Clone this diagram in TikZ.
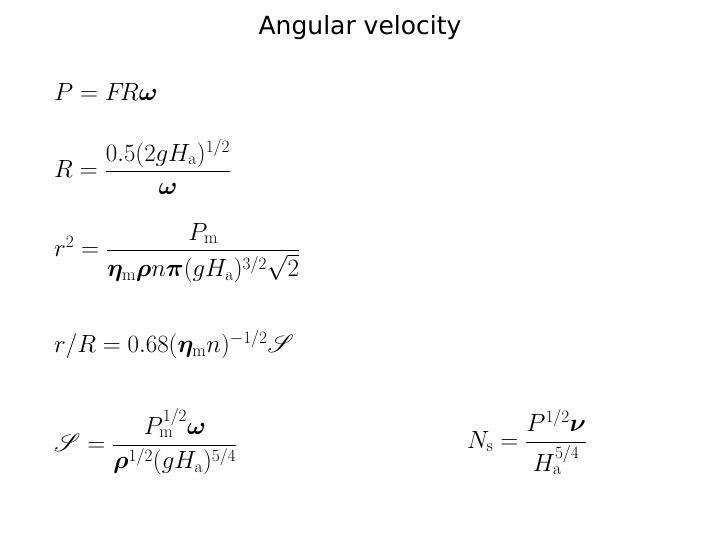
\documentclass[tikz,border=0pt]{standalone}
\usepackage{amsmath,bm,mathrsfs}
\usepackage{fontspec}
\newfontfamily\titlefont{DejaVu Sans}
\begin{document}
\begin{tikzpicture}[x=1pt,y=-1pt,
  eq/.style={anchor=west,inner sep=0pt,font=\fontsize{25}{30}\selectfont}]
\useasboundingbox (0,0) rectangle (720,540);
\node[font=\titlefont\fontsize{25}{30}\selectfont] (title) at (360,28) {Angular velocity};
\node[eq] (e1) at (54,92) {$P = F\!R\bm{\omega}$};
\node[eq] (e2) at (54,167) {$R = \dfrac{0.5(2gH_{\mathrm{a}})^{1/2}}{\bm{\omega}}$};
\node[eq] (e3) at (54,253) {$r^2 = \dfrac{P_{\mathrm{m}}}{\bm{\eta}_{\mathrm{m}}\bm{\rho} n\bm{\pi}(gH_{\mathrm{a}})^{3/2}\sqrt{2}}$};
\node[eq] (e4) at (54,345) {$r/R = 0.68(\bm{\eta}_{\mathrm{m}}n)^{-1/2}\mathscr{S}$};
\node[eq] (e5) at (54,442) {$\mathscr{S} = \dfrac{P_{\mathrm{m}}^{1/2}\bm{\omega}}{\bm{\rho}^{1/2}(gH_{\mathrm{a}})^{5/4}}$};
\node[eq] (e6) at (467,442) {$N_{\mathrm{s}} = \dfrac{P^{1/2}\bm{\nu}}{H_{\mathrm{a}}^{5/4}}$};
\end{tikzpicture}
\end{document}
